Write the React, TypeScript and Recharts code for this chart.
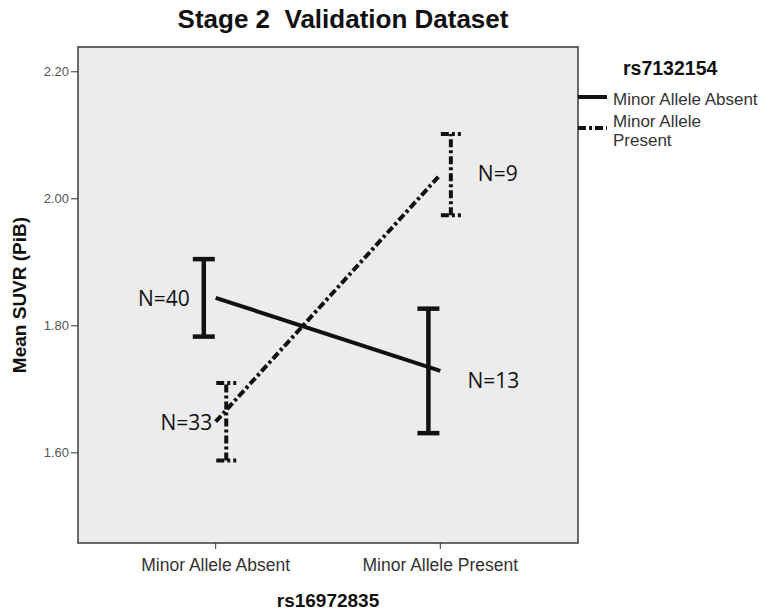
import { ComposedChart, Line, XAxis, YAxis, ErrorBar, ReferenceArea, LabelList, Label } from 'recharts';

const categories = ['Minor Allele Absent', 'Minor Allele Present'];
const catX = [0, 1];
const yTicks = [1.6, 1.8, 2.0, 2.2];

// rs7132154 minor allele absent (solid)
const solidMean = [1.844, 1.729];
const solidErr = [0.061, 0.098];
const solidN = [40, 13];

// rs7132154 minor allele present (dash-dot)
const dashedMean = [1.649, 2.038];
const dashedErr = [0.061, 0.064];
const dashedN = [33, 9];

const X_DOMAIN = [-0.613, 1.613];
const Y_DOMAIN = [1.458, 2.239];
const DASH = '8 3 3 3';

const solidLine = catX.map((x, i) => ({ x, y: solidMean[i] }));
const dashedLine = catX.map((x, i) => ({ x, y: dashedMean[i] }));
const solidBars = catX.map((x, i) => ({ x: x - 0.053, y: solidMean[i], err: solidErr[i], n: solidN[i] }));
const dashedBars = catX.map((x, i) => ({ x: x + 0.047, y: dashedMean[i], err: dashedErr[i], n: dashedN[i] }));

const solidLabelPos = [{ anchor: 'end', dx: -14, dy: 0 }, { anchor: 'start', dx: 39, dy: 9 }];
const dashedLabelPos = [{ anchor: 'end', dx: -14, dy: 0 }, { anchor: 'start', dx: 27, dy: -2 }];

const nLabel = (pos: any[]) => (props: any) => {
  const { x, y, value, index } = props;
  const p = pos[index];
  return (
    <text x={x + p.dx} y={y + p.dy} textAnchor={p.anchor} dominantBaseline="central"
      fontFamily="Open Sans" fontSize={21} fill="#111">{`N=${value}`}</text>
  );
};

function LegendBox() {
  return (
    <svg width={193} height={110} style={{ position: 'absolute', left: 578, top: 50 }}>
      <text x={45} y={18} dominantBaseline="central" fontFamily="Liberation Sans" fontWeight="bold" fontSize={19.5} fill="#111">rs7132154</text>
      <line x1={0} x2={29} y1={47} y2={47} stroke="#111" strokeWidth={4} />
      <text x={35} y={49} dominantBaseline="central" fontFamily="Liberation Sans" fontSize={17} fill="#333">Minor Allele Absent</text>
      <line x1={0} x2={29} y1={78} y2={78} stroke="#111" strokeWidth={4} strokeDasharray={DASH} />
      <text x={35} y={71} dominantBaseline="central" fontFamily="Liberation Sans" fontSize={17} fill="#333">Minor Allele</text>
      <text x={35} y={90.5} dominantBaseline="central" fontFamily="Liberation Sans" fontSize={17} fill="#333">Present</text>
    </svg>
  );
}

export default function App() {
  return (
    <div style={{ position: 'absolute', left: 0, top: 0, width: 771, height: 614, background: '#fff' }}>
      <div style={{ position: 'absolute', left: 0, width: 686, top: 4, textAlign: 'center', fontFamily: 'Liberation Sans', fontWeight: 'bold', fontSize: 26, color: '#111', whiteSpace: 'pre' }}>
        {'Stage 2  Validation Dataset'}
      </div>
      <ComposedChart width={771} height={614} margin={{ top: 47, right: 193, bottom: 0, left: 0 }}>
        <ReferenceArea x1={X_DOMAIN[0]} x2={X_DOMAIN[1]} y1={Y_DOMAIN[0]} y2={Y_DOMAIN[1]}
          fill="#ececec" fillOpacity={1} stroke="#3a3a3a" strokeWidth={1.5} ifOverflow="visible" />
        <XAxis type="number" dataKey="x" domain={X_DOMAIN} allowDataOverflow ticks={catX} height={71}
          tickFormatter={(v: number) => categories[Math.round(v)]}
          axisLine={false} tickLine={{ stroke: '#333' }} tickSize={6} tickMargin={10}
          tick={{ fill: '#333', fontSize: 17.5, fontFamily: 'Liberation Sans' }}>
          <Label value="rs16972835" position="insideBottom" offset={7}
            style={{ fontFamily: 'Liberation Sans', fontWeight: 'bold', fontSize: 19, fill: '#111' }} />
        </XAxis>
        <YAxis type="number" domain={Y_DOMAIN} allowDataOverflow ticks={yTicks} width={78}
          tickFormatter={(v: number) => v.toFixed(2)}
          axisLine={false} tickLine={{ stroke: '#333' }} tickSize={7} tickMargin={2}
          tick={{ fill: '#555', fontSize: 13, fontFamily: 'Liberation Sans' }}>
          <Label value="Mean SUVR (PiB)" position="insideLeft" offset={0}
            content={({ viewBox }: any) => (
              <text x={viewBox.x + 19} y={viewBox.y + viewBox.height / 2} transform={`rotate(-90 ${viewBox.x + 19} ${viewBox.y + viewBox.height / 2})`}
                textAnchor="middle" dominantBaseline="central" fontFamily="Liberation Sans" fontWeight="bold" fontSize={19} fill="#111">
                Mean SUVR (PiB)
              </text>
            )} />
        </YAxis>
        <Line data={solidLine} dataKey="y" stroke="#111" strokeWidth={4} dot={false} activeDot={false} isAnimationActive={false} />
        <Line data={dashedLine} dataKey="y" stroke="#111" strokeWidth={4} strokeDasharray={DASH} dot={false} activeDot={false} isAnimationActive={false} />
        <Line data={solidBars} dataKey="y" stroke="none" dot={false} activeDot={false} isAnimationActive={false}>
          <ErrorBar dataKey="err" direction="y" width={11} stroke="#111" strokeWidth={4.5} isAnimationActive={false} />
          <LabelList dataKey="n" content={nLabel(solidLabelPos)} />
        </Line>
        <Line data={dashedBars} dataKey="y" stroke="none" dot={false} activeDot={false} isAnimationActive={false}>
          <ErrorBar dataKey="err" direction="y" width={10} stroke="#111" strokeWidth={4} strokeDasharray={DASH} isAnimationActive={false} />
          <LabelList dataKey="n" content={nLabel(dashedLabelPos)} />
        </Line>
      </ComposedChart>
      <LegendBox />
    </div>
  );
}
